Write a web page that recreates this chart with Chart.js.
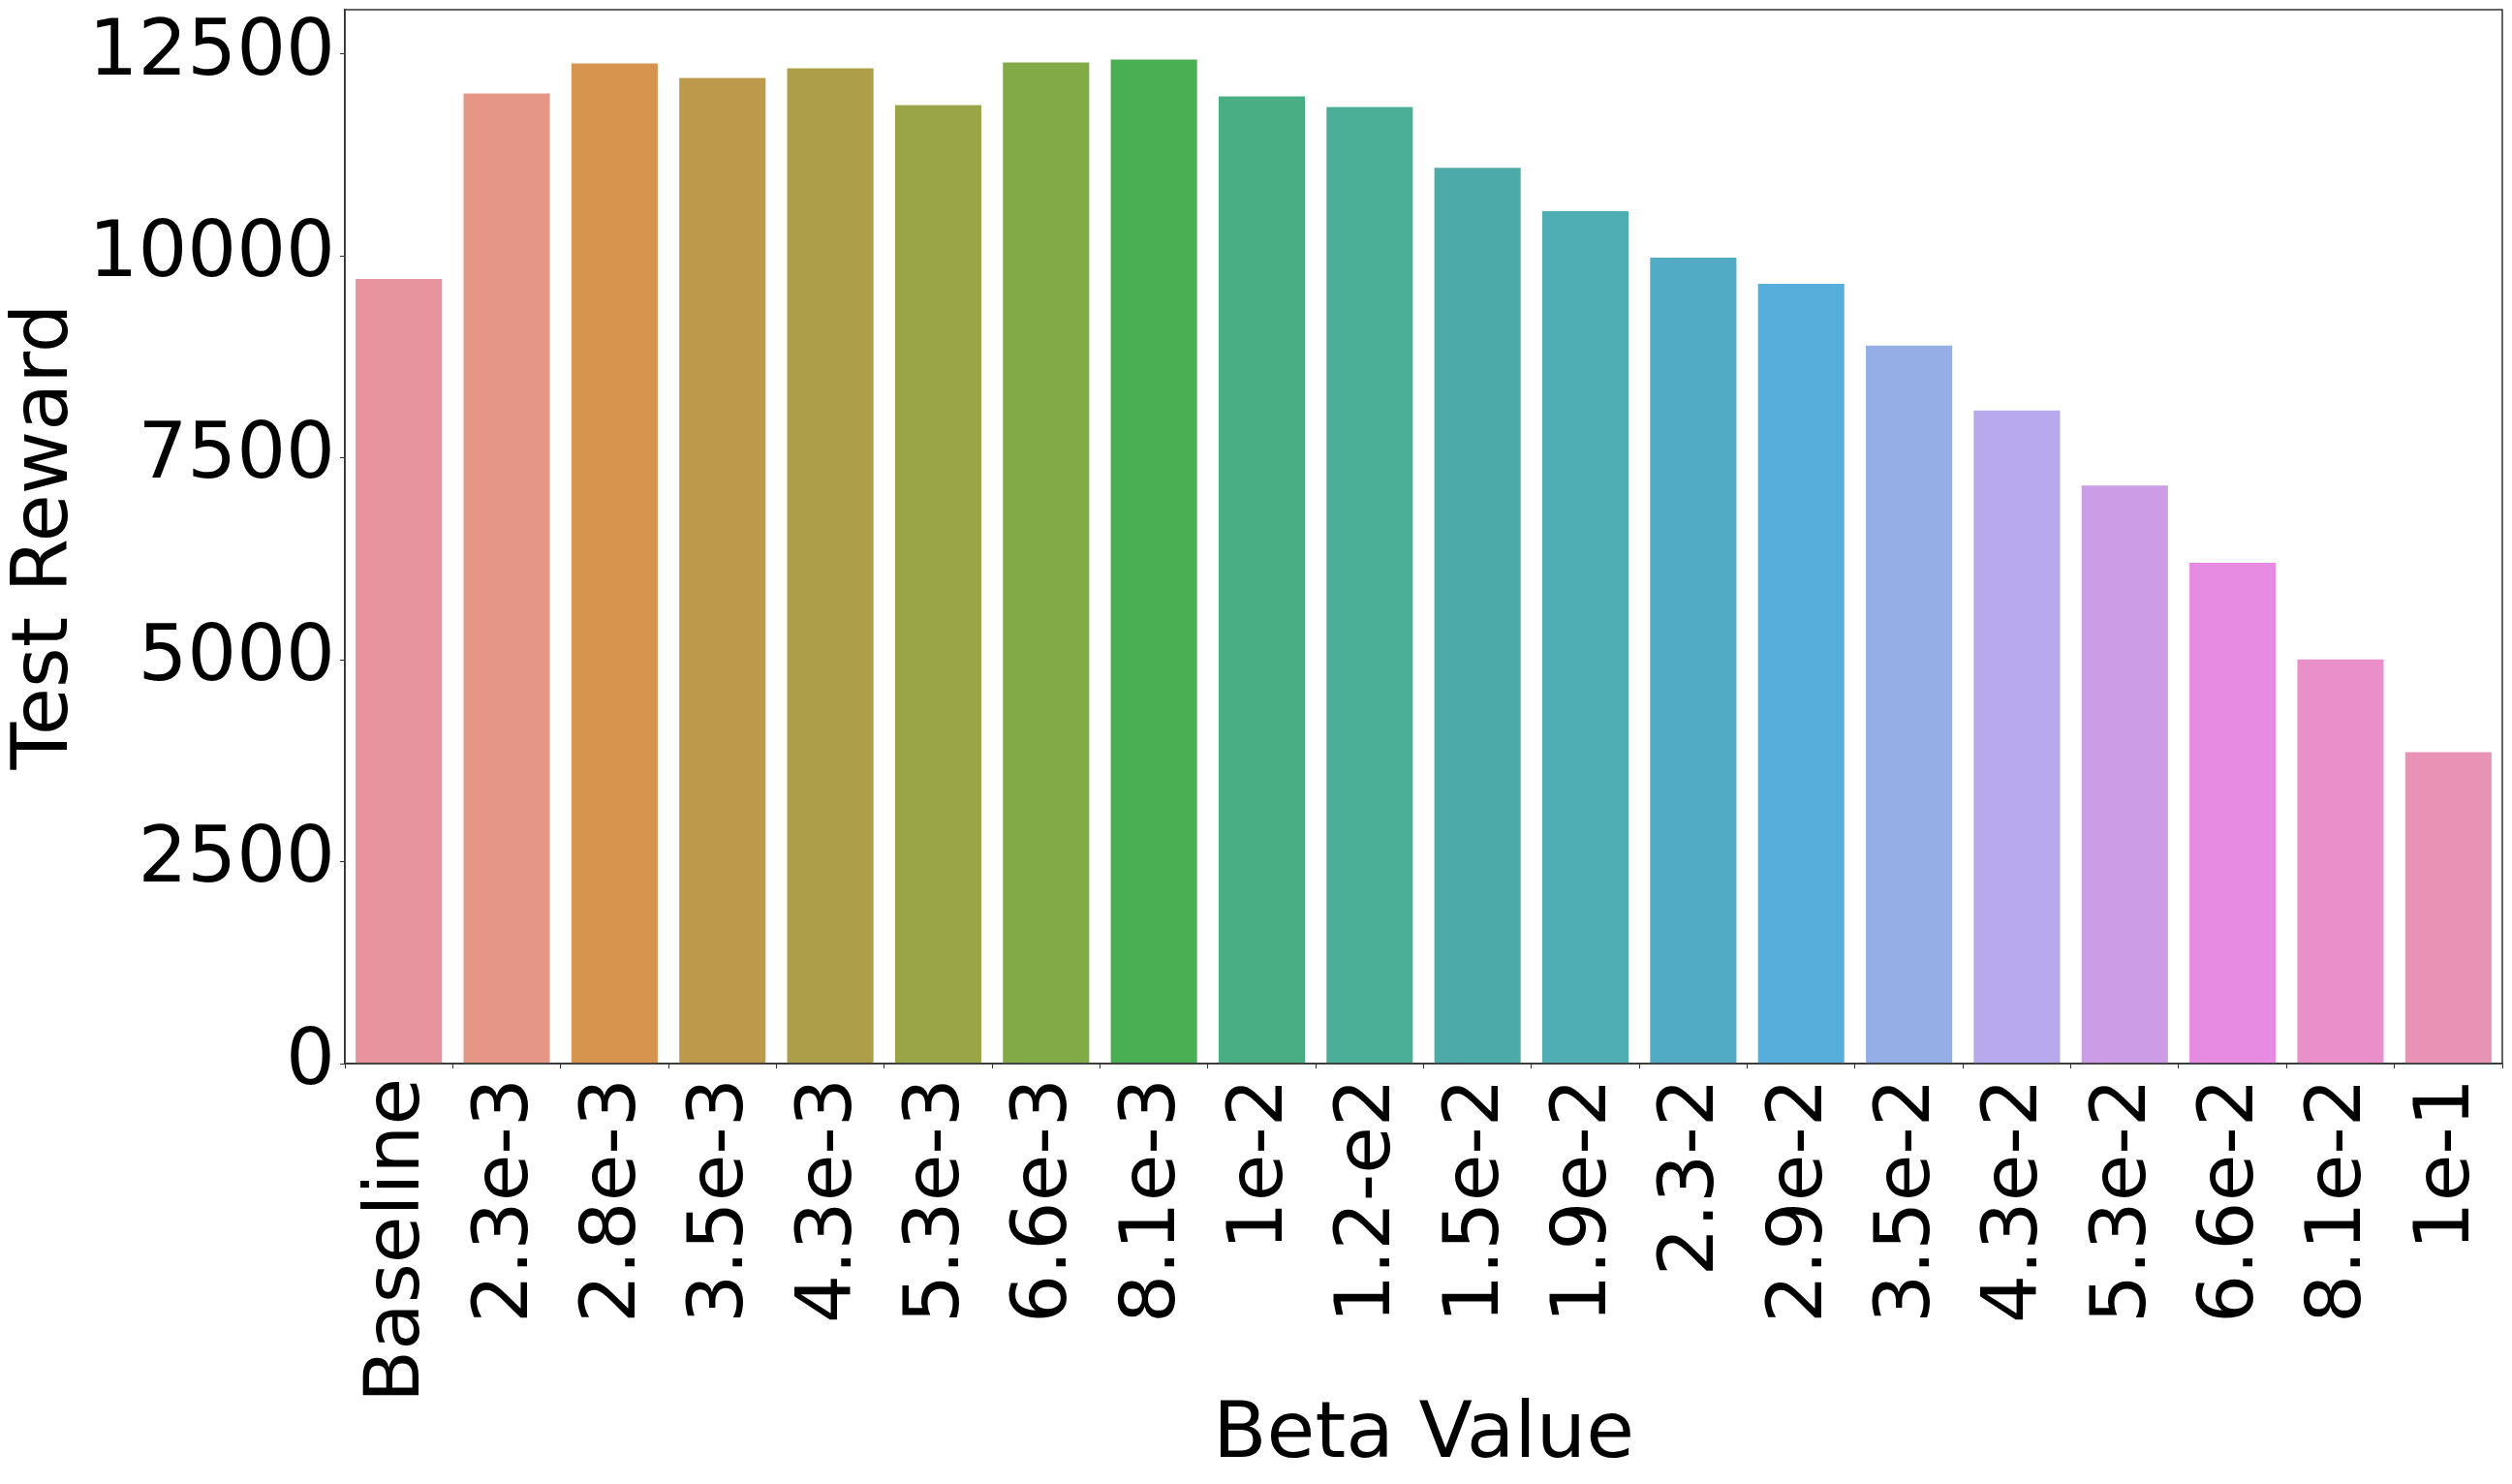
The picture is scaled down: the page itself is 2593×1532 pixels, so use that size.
<!DOCTYPE html>
<html>
<head>
<meta charset="utf-8">
<script src="https://cdn.jsdelivr.net/npm/chart.js@4/dist/chart.umd.min.js"></script>
<style>
  body { margin: 0; background: #fff; }
  canvas { display: block; }
</style>
</head>
<body>
<canvas id="betaChart" width="2593" height="1532"></canvas>
<script>
// datos
const betaLabels = ['Baseline', '2.3e-3', '2.8e-3', '3.5e-3', '4.3e-3', '5.3e-3', '6.6e-3', '8.1e-3',
    '1e-2', '1.2-e2', '1.5e-2', '1.9e-2', '2.3-2', '2.9e-2', '3.5e-2', '4.3e-2', '5.3e-2', '6.6e-2', '8.1e-2', '1e-1'];
const testReward = [9717, 12013, 12384, 12205, 12324, 11870, 12396, 12432,
    11977, 11846, 11092, 10554, 9980, 9657, 8892, 8088, 7157, 6201, 5005, 3856];
const barColors = ['#e8949f', '#e69686', '#d6944f', '#bd9a4b', '#ad9f4a', '#9aa548', '#82ab48', '#49af52',
    '#4aae84', '#4baf98', '#4caaa8', '#4faeb4', '#51abc5', '#57aedb', '#95afe6', '#b7a9ec',
    '#cd9ce7', '#e68ae2', '#e990c9', '#e892b5'];
const yTicks = [0, 2500, 5000, 7500, 10000, 12500];
const yMax = 13050;

// marco completo alrededor del area
const frame = {
    id: 'frame',
    afterDraw(chart) {
        const { ctx, chartArea: a } = chart;
        ctx.save();
        ctx.strokeStyle = '#333';
        ctx.lineWidth = 1.5;
        ctx.strokeRect(a.left, a.top, a.right - a.left, a.bottom - a.top);
        ctx.restore();
    }
};

Chart.defaults.font.family = '"DejaVu Sans", sans-serif';
Chart.defaults.color = '#000';

const ctx = document.getElementById('betaChart').getContext('2d');
new Chart(ctx, {
    type: 'bar',
    data: {
        labels: betaLabels,
        datasets: [{
            data: testReward,
            backgroundColor: barColors,
            borderWidth: 0,
            categoryPercentage: 1.0,
            barPercentage: 0.8
        }]
    },
    options: {
        responsive: false,
        animation: false,
        layout: { padding: { top: 10, right: 10, left: 0, bottom: 0 } },
        plugins: { legend: { display: false }, tooltip: { enabled: false } },
        scales: {
            x: {
                grid: { drawOnChartArea: false, drawTicks: true, tickLength: 5, color: '#333' },
                border: { display: true, color: '#333', width: 1.5 },
                ticks: {
                    autoSkip: false, minRotation: 90, maxRotation: 90,
                    padding: 10,
                    font: { size: 79 }
                },
                title: { display: true, text: 'Beta Value', font: { size: 81 }, padding: 0 },
                afterFit(scale) {
                    scale.height = 434;
                    scale.paddingLeft = 0;
                    scale.paddingRight = 0;
                }
            },
            y: {
                min: 0,
                max: yMax,
                afterBuildTicks(scale) { scale.ticks = yTicks.map(v => ({ value: v })); },
                grid: { drawOnChartArea: false, drawTicks: true, tickLength: 5, color: '#333' },
                border: { display: true, color: '#333', width: 1.5 },
                ticks: { padding: 5, font: { size: 80 }, callback: v => String(v) },
                title: { display: true, text: 'Test Reward', font: { size: 80 }, padding: 0 },
                afterFit(scale) {
                    scale.width = 356;
                    scale.paddingTop = 0;
                    scale.paddingBottom = 0;
                }
            }
        }
    },
    plugins: [frame]
});
</script>
</body>
</html>
